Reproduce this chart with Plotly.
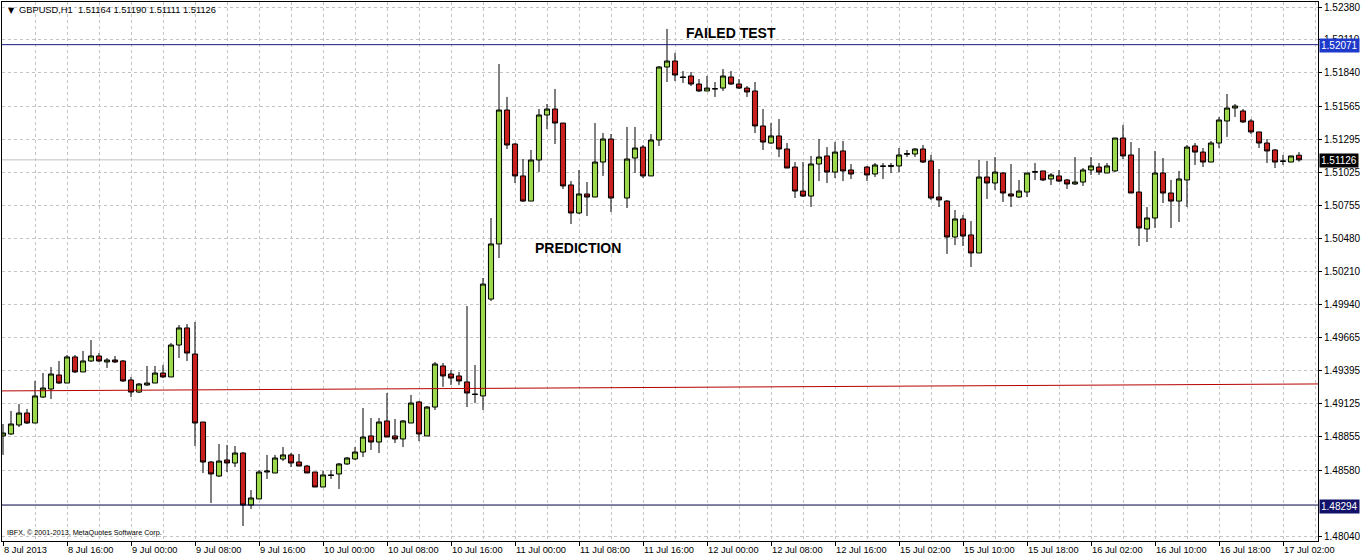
import plotly.graph_objects as go

# ---------------- data (GBPUSD H1) ----------------
symbol = "GBPUSD,H1"
opens = [1.48861, 1.48877, 1.48951, 1.49049, 1.48967, 1.49180, 1.49246, 1.49361, 1.49295, 1.49509,
         1.49386, 1.49476, 1.49517, 1.49468, 1.49484, 1.49476, 1.49320, 1.49221, 1.49279, 1.49295,
         1.49377, 1.49345, 1.49607, 1.49747, 1.49533, 1.48975, 1.48647, 1.48532, 1.48664, 1.48639,
         1.48721, 1.48294, 1.48344, 1.48565, 1.48557, 1.48672, 1.48705, 1.48647, 1.48614, 1.48565,
         1.48442, 1.48541, 1.48549, 1.48631, 1.48672, 1.48729, 1.48861, 1.48811, 1.48984, 1.48861,
         1.48836, 1.48967, 1.49140, 1.48861, 1.49098, 1.49435, 1.49369, 1.49353, 1.49304, 1.49205,
         1.49189, 1.49984, 1.50436, 1.51535, 1.51256, 1.50994, 1.50788, 1.51125, 1.51494, 1.51543,
         1.51428, 1.50920, 1.50690, 1.50846, 1.50821, 1.51108, 1.51297, None, 1.50813, 1.51141,
         1.51231, 1.50994, 1.51289, 1.51888, 1.51937, 1.51806, 1.51814, 1.51748, 1.51691, 1.51707,
         1.51715, 1.51806, 1.51748, 1.51715, 1.51691, 1.51404, 1.51264, 1.51322, 1.51215, 1.51067,
         1.50870, 1.50829, 1.51092, 1.51158, 1.51026, 1.51199, 1.51043, None, 1.51067, 1.51010,
         1.51076, 1.51071, 1.51076, 1.51171, 1.51174, 1.51215, 1.51117, 1.50821, 1.50788, 1.50493,
         1.50641, 1.50510, 1.50362, 1.50985, 1.50936, 1.51018, 1.50846, 1.50821, 1.50862, 1.51024,
         1.51035, 1.50969, 1.50994, 1.50961, 1.50928, 1.50944, 1.51043, 1.51067, 1.51018, 1.51035,
         1.51305, 1.51166, 1.50862, 1.50559, 1.50649, 1.51018, 1.50854, 1.50788, 1.50961, 1.51240,
         1.51190, 1.51108, 1.51264, 1.51445, 1.51551, 1.51527, 1.51445, 1.51355, 1.51264, 1.51207,
         1.51117, 1.51108, 1.51164]
highs = [1.48959, 1.49066, 1.49123, 1.49082, 1.49312, 1.49377, 1.49426, 1.49476, 1.49525, 1.49525,
         1.49558, 1.49648, 1.49541, 1.49500, 1.49517, 1.49484, 1.49345, 1.49295, 1.49435, 1.49435,
         1.49443, 1.49623, 1.49771, 1.49779, 1.49796, 1.48975, 1.48655, 1.48795, 1.48787, 1.48778,
         1.48729, 1.48417, 1.48582, 1.48705, 1.48705, 1.48770, 1.48721, 1.48713, 1.48623, 1.48565,
         1.48573, 1.48582, 1.48639, 1.48688, 1.48770, 1.49090, 1.49008, 1.49008, 1.49213, 1.49000,
         1.48992, 1.49197, 1.49148, 1.49107, 1.49468, 1.49459, 1.49402, 1.49386, 1.49927, 1.49443,
         1.50157, 1.50649, 1.51912, 1.51642, 1.51264, 1.51133, 1.51207, 1.51543, 1.51584, 1.51707,
         1.51428, 1.50952, 1.51043, 1.50944, 1.51428, 1.51346, 1.51338, None, 1.51396, 1.51396,
         1.51248, 1.51338, 1.51896, 1.52200, 1.52003, 1.51855, 1.51847, 1.51789, 1.51814, 1.51765,
         1.51871, 1.51855, 1.51789, 1.51732, 1.51765, 1.51543, 1.51428, 1.51461, 1.51264, 1.51108,
         1.51108, 1.51158, 1.51297, 1.51231, 1.51272, 1.51281, 1.51092, None, 1.51076, 1.51100,
         1.51100, 1.51100, 1.51223, 1.51207, 1.51223, 1.51248, 1.51166, 1.51051, 1.50797, 1.50715,
         1.50674, 1.50624, 1.51125, 1.51117, 1.51149, 1.51026, 1.51092, 1.50961, 1.51018, 1.51100,
         1.51035, 1.51018, 1.51043, 1.50969, 1.51149, 1.51059, 1.51149, 1.51100, 1.51100, 1.51305,
         1.51412, 1.51272, 1.51223, 1.50739, 1.51199, 1.51141, 1.50961, 1.51035, 1.51248, 1.51264,
         1.51223, 1.51281, 1.51478, 1.51666, 1.51584, 1.51543, 1.51461, 1.51355, 1.51297, 1.51215,
         1.51166, 1.51158, 1.51190]
lows = [1.48705, 1.48869, 1.48934, 1.48959, 1.48967, 1.49172, 1.49164, 1.49287, 1.49295, 1.49377,
        1.49386, 1.49468, 1.49468, 1.49418, 1.49459, 1.49304, 1.49180, 1.49213, 1.49271, 1.49295,
        1.49336, 1.49345, 1.49500, 1.49476, 1.48778, 1.48557, 1.48311, 1.48524, 1.48565, 1.48606,
        1.48122, 1.48262, 1.48344, 1.48508, 1.48557, 1.48655, 1.48606, 1.48614, 1.48557, 1.48442,
        1.48442, 1.48508, 1.48426, 1.48623, 1.48664, 1.48688, 1.48746, 1.48721, 1.48852, 1.48803,
        1.48770, 1.48967, 1.48819, 1.48861, 1.49074, 1.49263, 1.49279, 1.49279, 1.49098, 1.49131,
        1.49074, 1.49968, 1.50321, 1.51215, 1.50936, 1.50780, 1.50788, 1.51026, 1.51379, 1.51256,
        1.50887, 1.50600, 1.50682, 1.50665, 1.50821, 1.50994, 1.50698, None, 1.50731, 1.51018,
        1.50977, 1.50994, 1.51240, 1.51765, 1.51773, 1.51757, 1.51732, 1.51683, 1.51691, 1.51642,
        1.51691, 1.51740, 1.51707, 1.51642, 1.51346, 1.51207, 1.51256, 1.51149, 1.51059, 1.50813,
        1.50821, 1.50739, 1.50952, 1.50936, 1.50977, 1.50952, 1.50969, None, 1.50952, 1.50985,
        1.50969, 1.51018, 1.51026, 1.51149, 1.51149, 1.51100, 1.50797, 1.50739, 1.50354, 1.50427,
        1.50419, 1.50247, 1.50362, 1.50805, 1.50879, 1.50780, 1.50739, 1.50813, 1.50821, 1.50961,
        1.50952, 1.50920, 1.50944, 1.50887, 1.50920, 1.50912, 1.51002, 1.51002, 1.51018, 1.51026,
        1.51133, 1.50854, 1.50419, 1.50452, 1.50567, 1.50772, 1.50567, 1.50616, 1.50739, 1.51084,
        1.51067, 1.51108, 1.51223, 1.51314, 1.51478, 1.51428, 1.51338, 1.51223, 1.51100, 1.51059,
        1.51084, 1.51108, 1.51111]
closes = [1.48885, 1.48959, 1.49049, 1.48967, 1.49189, 1.49254, 1.49369, 1.49295, 1.49509, 1.49386,
          1.49476, 1.49517, 1.49476, 1.49484, 1.49468, 1.49312, 1.49221, 1.49287, 1.49295, 1.49377,
          1.49345, 1.49607, 1.49747, 1.49541, 1.48967, 1.48647, 1.48549, 1.48655, 1.48639, 1.48721,
          1.48294, 1.48352, 1.48565, 1.48573, 1.48680, 1.48705, 1.48639, 1.48614, 1.48557, 1.48442,
          1.48541, 1.48537, 1.48631, 1.48680, 1.48729, 1.48852, 1.48811, 1.48975, 1.48852, 1.48836,
          1.48984, 1.49131, 1.48877, 1.49098, 1.49451, 1.49353, 1.49336, 1.49312, 1.49213, 1.49201,
          1.50107, 1.50436, 1.51535, 1.51248, 1.50994, 1.50788, 1.51125, 1.51494, 1.51543, 1.51428,
          1.50912, 1.50690, 1.50846, 1.50821, 1.51108, 1.51297, 1.50813, None, 1.51133, 1.51223,
          1.50994, 1.51289, 1.51888, 1.51937, 1.51822, 1.51802, 1.51748, 1.51691, 1.51715, 1.51710,
          1.51814, 1.51748, 1.51715, 1.51683, 1.51404, 1.51272, 1.51322, 1.51215, 1.51059, 1.50870,
          1.50829, 1.51092, 1.51149, 1.51026, 1.51190, 1.51035, 1.51010, None, 1.51002, 1.51084,
          1.51073, 1.51080, 1.51166, 1.51177, 1.51215, 1.51108, 1.50813, 1.50797, 1.50493, 1.50641,
          1.50501, 1.50362, 1.50985, 1.50936, 1.51026, 1.50854, 1.50829, 1.50870, 1.51018, 1.51029,
          1.50961, 1.51002, 1.50952, 1.50928, 1.50944, 1.51043, 1.51076, 1.51026, 1.51076, 1.51305,
          1.51158, 1.50854, 1.50567, 1.50649, 1.51018, 1.50854, 1.50788, 1.50969, 1.51231, 1.51190,
          1.51108, 1.51264, 1.51453, 1.51551, 1.51568, 1.51437, 1.51355, 1.51264, 1.51199, 1.51108,
          1.51114, 1.51158, 1.51126]

# time-scale labels (one every 8 bars) and price-scale labels
time_labels = ["8 Jul 2013", "8 Jul 16:00", "9 Jul 00:00", "9 Jul 08:00", "9 Jul 16:00",
               "10 Jul 00:00", "10 Jul 08:00", "10 Jul 16:00", "11 Jul 00:00", "11 Jul 08:00",
               "11 Jul 16:00", "12 Jul 00:00", "12 Jul 08:00", "12 Jul 16:00", "15 Jul 02:00",
               "15 Jul 10:00", "15 Jul 18:00", "16 Jul 02:00", "16 Jul 10:00", "16 Jul 18:00",
               "17 Jul 02:00"]
bars_per_label = 8
price_ticks = [1.52380, 1.52110, 1.51840, 1.51565, 1.51295, 1.51025, 1.50755, 1.50480,
               1.50210, 1.49940, 1.49665, 1.49395, 1.49125, 1.48855, 1.48580, 1.48040]

# horizontal levels and the red trend line
resistance = 1.52071
support = 1.48294
bid = closes[-1]
trend_bars = [-1, 166]
trend_prices = [1.49230, 1.49288]

# text objects on the chart: (text, bar, price)
notes = [("FAILED TEST", 91, 1.52167), ("PREDICTION", 71.9, 1.50403)]

# ---------------- styling ----------------
bull_color = "#9bd84a"
bear_color = "#c8201e"
grid_color = "#c4c4c4"
font_family = "Liberation Sans, Arial, sans-serif"

bar_index = list(range(len(opens)))
label_bars = [k * bars_per_label for k in range(len(time_labels))]
grid_bars = list(range(0, len(opens) + 2, bars_per_label // 2))

fig = go.Figure()
fig.add_trace(go.Candlestick(
    x=bar_index, open=opens, high=highs, low=lows, close=closes,
    increasing=dict(line=dict(color="black", width=1), fillcolor=bull_color),
    decreasing=dict(line=dict(color="black", width=1), fillcolor=bear_color),
    whiskerwidth=0, hoverinfo="skip", showlegend=False,
))
fig.add_trace(go.Scatter(
    x=trend_bars, y=trend_prices, mode="lines",
    line=dict(color="#b80000", width=1), hoverinfo="skip", showlegend=False,
))

fig.add_hline(y=bid, line=dict(color="#c0c0c0", width=1), layer="below")
fig.add_hline(y=resistance, line=dict(color="#1a1a80", width=1))
fig.add_hline(y=support, line=dict(color="#000040", width=1))

annotations = []
for text, bx, py in notes:
    annotations.append(dict(x=bx, y=py, xref="x", yref="y", text=f"<b>{text}</b>",
                            showarrow=False, font=dict(family=font_family, size=14, color="black")))

for level, bg in [(resistance, "#1f3acb"), (bid, "#000000"), (support, "#12126a")]:
    annotations.append(dict(x=1, xref="paper", xanchor="left", xshift=1, y=level, yref="y",
                            yshift=-1, text=f"{level:.5f}", showarrow=False, bgcolor=bg, borderpad=1,
                            font=dict(family=font_family, size=10, color="white")))

header = f"{symbol}  {opens[-1]:.5f} {highs[-1]:.5f} {lows[-1]:.5f} {closes[-1]:.5f}"
annotations.append(dict(x=0, y=1, xref="paper", yref="paper", xanchor="left", yanchor="top",
                        xshift=15, yshift=-1, text=header, showarrow=False,
                        font=dict(family=font_family, size=9.3, color="black")))
annotations.append(dict(x=0, y=1, xref="paper", yref="paper", xanchor="left", yanchor="top",
                        xshift=4, yshift=-2, text="▼", showarrow=False,
                        font=dict(family="DejaVu Sans", size=8, color="black")))
annotations.append(dict(x=0, y=0, xref="paper", yref="paper", xanchor="left", yanchor="bottom",
                        xshift=3, yshift=2, text="IBFX, © 2001-2013, MetaQuotes Software Corp.",
                        showarrow=False, font=dict(family=font_family, size=7.2, color="black")))

fig.update_layout(
    width=1362, height=557,
    margin=dict(l=2, r=44, t=2, b=16, autoexpand=False),
    paper_bgcolor="white", plot_bgcolor="white",
    boxgap=0.36, boxgroupgap=0,
    annotations=annotations,
    font=dict(family=font_family, size=10, color="black"),
    xaxis=dict(
        range=[-0.125, 164.375], rangeslider=dict(visible=False), automargin=False,
        tickmode="array", tickvals=label_bars, ticktext=time_labels, tickangle=0,
        ticks="outside", ticklen=4, tickcolor="black", ticklabelposition="outside right",
        tickfont=dict(family=font_family, size=9.3, color="black"),
        showgrid=True, gridcolor=grid_color, griddash="3px,3px", gridwidth=1,
        minor=dict(tickmode="array", tickvals=grid_bars, showgrid=True,
                   gridcolor=grid_color, griddash="3px,3px", ticks=""),
        showline=True, linecolor="black", linewidth=1, mirror=True, zeroline=False,
        fixedrange=True,
    ),
    yaxis=dict(
        side="right", range=[1.47999, 1.52421], automargin=False,
        tickmode="array", tickvals=price_ticks, ticktext=[f"{p:.5f}" for p in price_ticks],
        ticks="outside", ticklen=3, tickcolor="black",
        tickfont=dict(family=font_family, size=10, color="black"),
        showgrid=True, gridcolor=grid_color, griddash="3px,3px", gridwidth=1,
        showline=True, linecolor="black", linewidth=1, mirror=True, zeroline=False,
        fixedrange=True,
    ),
)

fig.write_html("out.html", config=dict(displayModeBar=False),
               post_script="document.body.style.margin='0';document.body.style.overflow='hidden';")
